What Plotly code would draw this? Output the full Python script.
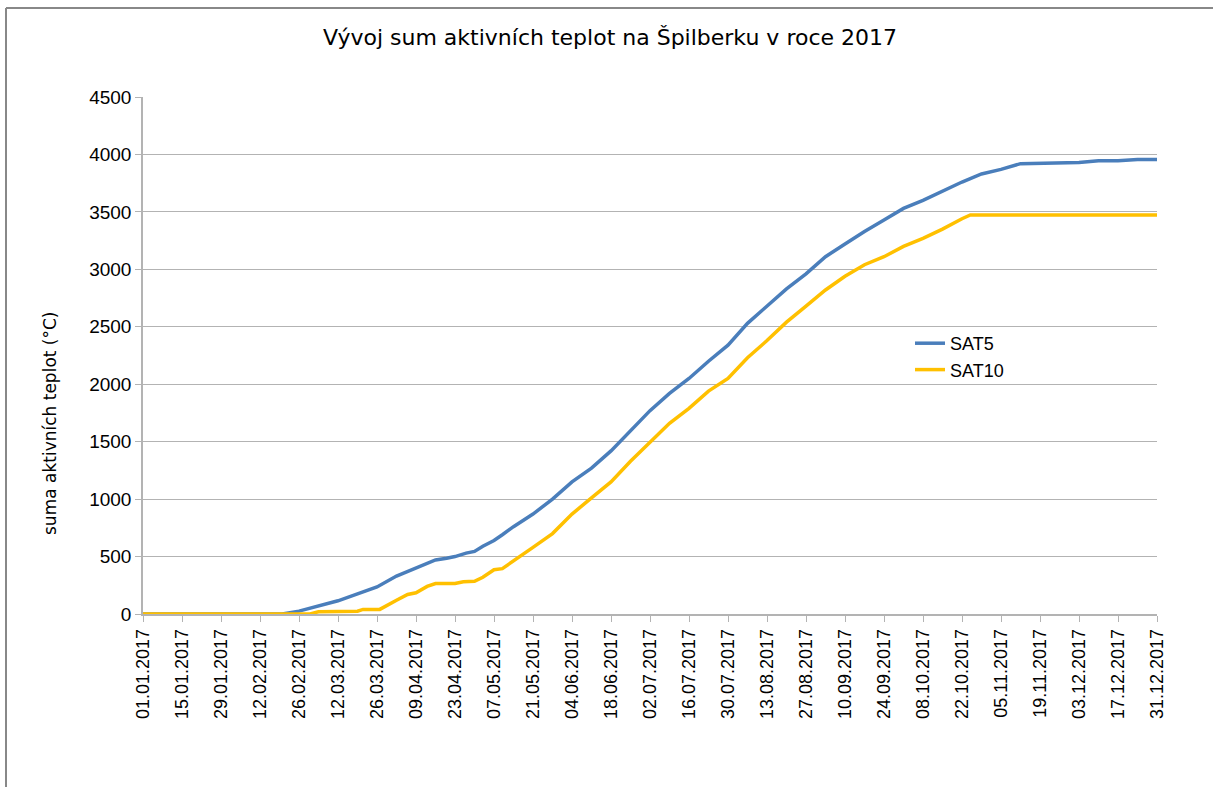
import plotly.graph_objects as go

# ---- data ----
sat5_dates = ["2017-01-01", "2017-02-20", "2017-02-26", "2017-03-05", "2017-03-12", "2017-03-19",
              "2017-03-26", "2017-04-02", "2017-04-09", "2017-04-16", "2017-04-20", "2017-04-23",
              "2017-04-27", "2017-04-30", "2017-05-03", "2017-05-07", "2017-05-10", "2017-05-14",
              "2017-05-21", "2017-05-28", "2017-06-04", "2017-06-11", "2017-06-18", "2017-06-25",
              "2017-07-02", "2017-07-09", "2017-07-16", "2017-07-23", "2017-07-30", "2017-08-06",
              "2017-08-13", "2017-08-20", "2017-08-27", "2017-09-03", "2017-09-10", "2017-09-17",
              "2017-09-24", "2017-10-01", "2017-10-08", "2017-10-15", "2017-10-22", "2017-10-29",
              "2017-11-05", "2017-11-12", "2017-11-19", "2017-11-26", "2017-12-03", "2017-12-10",
              "2017-12-17", "2017-12-24", "2017-12-31"]
sat5_values = [0, 0, 25, 70, 115, 175,
               235, 330, 400, 470, 485, 500,
               530, 545, 590, 640, 690, 760,
               870, 1000, 1150, 1270, 1420, 1600,
               1770, 1920, 2050, 2200, 2340, 2530,
               2680, 2830, 2960, 3110, 3220, 3330,
               3430, 3530, 3600, 3680, 3760, 3830,
               3870, 3920, 3925, 3930, 3930, 3945,
               3945, 3957, 3957]

sat10_dates = ["2017-01-01", "2017-03-02", "2017-03-05", "2017-03-19", "2017-03-21", "2017-03-27",
               "2017-04-02", "2017-04-06", "2017-04-09", "2017-04-13", "2017-04-16", "2017-04-23",
               "2017-04-26", "2017-04-30", "2017-05-03", "2017-05-07", "2017-05-10", "2017-05-14",
               "2017-05-21", "2017-05-28", "2017-06-04", "2017-06-11", "2017-06-18", "2017-06-25",
               "2017-07-02", "2017-07-09", "2017-07-16", "2017-07-23", "2017-07-30", "2017-08-06",
               "2017-08-13", "2017-08-20", "2017-08-27", "2017-09-03", "2017-09-10", "2017-09-17",
               "2017-09-24", "2017-10-01", "2017-10-08", "2017-10-15", "2017-10-22", "2017-10-25",
               "2017-12-31"]
sat10_values = [0, 0, 20, 25, 40, 40,
                120, 170, 185, 240, 265, 265,
                280, 285, 320, 385, 395, 460,
                580, 700, 870, 1010, 1150, 1330,
                1500, 1660, 1790, 1940, 2050, 2230,
                2380, 2540, 2680, 2820, 2940, 3040,
                3110, 3200, 3270, 3350, 3440, 3473,
                3473]

title_text = "Vývoj sum aktivních teplot na Špilberku v roce 2017"
y_title = "suma aktivních teplot (°C)"

fig = go.Figure()
fig.add_trace(go.Scatter(x=sat5_dates, y=sat5_values, mode="lines", name="SAT5",
                         line=dict(color="#4a7ebb", width=3.5)))
fig.add_trace(go.Scatter(x=sat10_dates, y=sat10_values, mode="lines", name="SAT10",
                         line=dict(color="#ffc000", width=3.5)))

L, R, T, B = 143, 56, 97, 173
W, H = 1213, 787
pw, ph = W - L - R, H - T - B

fig.update_layout(
    width=W, height=H,
    margin=dict(l=L, r=R, t=T, b=B),
    paper_bgcolor="white", plot_bgcolor="white",
    font=dict(family="Liberation Sans, Arial, sans-serif", color="black"),
    title=dict(text=title_text, x=610 / W, xref="container", xanchor="center",
               y=1 - 37 / H, yref="container", yanchor="middle",
               font=dict(family="DejaVu Sans, sans-serif", size=22, color="black")),
    showlegend=True,
    legend=dict(x=(910 - L) / pw, y=(614 - 325) / ph, xanchor="left", yanchor="top",
                bgcolor="rgba(0,0,0,0)", font=dict(size=18), itemwidth=30,
                tracegroupgap=0),
    xaxis=dict(type="date", range=["2017-01-01", "2017-12-31"],
               tick0="2017-01-01", dtick=14 * 86400000, tickformat="%d.%m.%Y",
               tickangle=-90, ticks="outside", ticklen=6, tickcolor="#b3b3b3",
               showline=True, linecolor="#b3b3b3", linewidth=1.5, showgrid=False,
               zeroline=False, tickfont=dict(size=18)),
    yaxis=dict(range=[0, 4500], dtick=500, tick0=0, ticks="outside", ticklen=6,
               tickcolor="#b3b3b3", showline=True, linecolor="#b3b3b3", linewidth=1.5,
               showgrid=True, gridcolor="#b3b3b3", gridwidth=1.2, zeroline=False,
               tickfont=dict(size=19)),
    annotations=[dict(text=y_title, textangle=-90, xref="paper", yref="paper",
                      x=(50 - L) / pw, y=(614 - 423) / ph, xanchor="center", yanchor="middle",
                      showarrow=False,
                      font=dict(family="DejaVu Sans, sans-serif", size=17, color="black"))],
    shapes=[
        dict(type="line", xref="paper", yref="paper",
             x0=(6 - L) / pw, x1=(W - L) / pw, y0=(614 - 8) / ph, y1=(614 - 8) / ph,
             line=dict(color="#888888", width=2)),
        dict(type="line", xref="paper", yref="paper",
             x0=(6 - L) / pw, x1=(6 - L) / pw, y0=(614 - 8) / ph, y1=(614 - H) / ph,
             line=dict(color="#888888", width=2)),
    ],
)

fig.write_html("out.html")
